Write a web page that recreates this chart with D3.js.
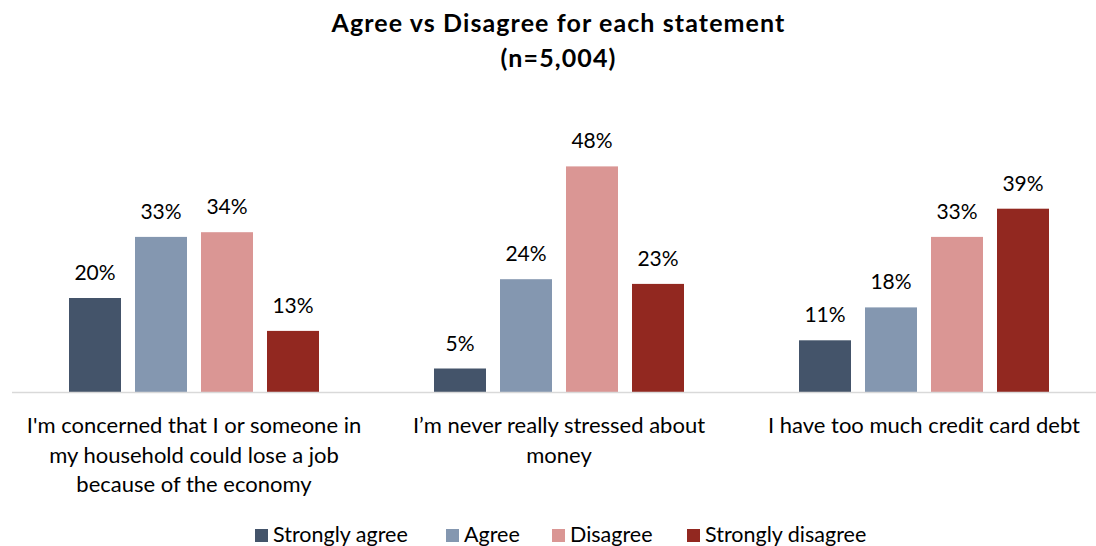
<!DOCTYPE html>
<html>
<head>
<meta charset="utf-8">
<script src="https://cdn.jsdelivr.net/npm/d3@7"></script>
<style>
  html, body { margin: 0; padding: 0; background: #fff; }
  svg { display: block; font-family: Lato, "Open Sans", sans-serif; }
</style>
</head>
<body>
<svg id="chart" width="1096" height="546"></svg>
<script>
// Survey statements (each label split into display lines)
const statements = [
  ["I'm concerned that I or someone in", "my household could lose a job", "because of the economy"],
  ["I\u2019m never really stressed about", "money"],
  ["I have too much credit card debt"]
];
const responses = ["Strongly agree", "Agree", "Disagree", "Strongly disagree"];
const colors = ["#44546A", "#8497B0", "#DA9694", "#922820"];

// Percent of respondents per statement, in response order
const stronglyAgree    = [20, 5, 11];
const agree            = [33, 24, 18];
const disagree         = [34, 48, 33];
const stronglyDisagree = [13, 23, 39];

const titleLines = ["Agree vs Disagree for each statement", "(n=5,004)"];

const seriesValues = [stronglyAgree, agree, disagree, stronglyDisagree];
const data = statements.map((s, i) => ({
  idx: i,
  lines: s,
  values: responses.map((r, j) => ({ key: r, j, value: seriesValues[j][i] }))
}));

const svg = d3.select("#chart");
const baseline = 392;

const x0 = d3.scaleBand()
  .domain(d3.range(statements.length))
  .range([11.5, 1106.5])
  .paddingInner(0)
  .paddingOuter(0);

const x1 = d3.scaleBand()
  .domain(responses)
  .range([57.5, x0.bandwidth() - 57.5])
  .paddingInner(14 / 66)
  .paddingOuter(0);

const y = d3.scaleLinear().domain([0, 50]).range([baseline, baseline - 50 * 4.70]);
const color = d3.scaleOrdinal().domain(responses).range(colors);

// Title
svg.append("g").selectAll("text")
  .data(titleLines)
  .join("text")
  .attr("x", 558.5)
  .attr("y", (d, i) => 32 + i * 35)
  .attr("text-anchor", "middle")
  .attr("font-weight", "bold")
  .attr("font-size", 25)
  .attr("letter-spacing", 1.1)
  .attr("fill", "#000")
  .text(d => d);

// Bars and value labels
const groups = svg.append("g").selectAll("g")
  .data(data)
  .join("g")
  .attr("transform", d => `translate(${x0(d.idx)},0)`);

groups.selectAll("rect")
  .data(d => d.values)
  .join("rect")
  .attr("x", d => x1(d.key))
  .attr("width", x1.bandwidth())
  .attr("y", d => y(d.value))
  .attr("height", d => baseline - y(d.value))
  .attr("fill", d => color(d.key));

groups.selectAll("text.val")
  .data(d => d.values)
  .join("text")
  .attr("class", "val")
  .attr("x", d => x1(d.key) + x1.bandwidth() / 2)
  .attr("y", d => y(d.value) - 18)
  .attr("text-anchor", "middle")
  .attr("font-size", 21)
  .attr("fill", "#000")
  .text(d => d.value + "%");

// Category axis line
svg.append("line")
  .attr("x1", 12).attr("x2", 1096)
  .attr("y1", baseline + 0.5).attr("y2", baseline + 0.5)
  .attr("stroke", "#d9d9d9")
  .attr("stroke-width", 1.5);

// Category labels
const catLabels = svg.append("g").selectAll("text")
  .data(data)
  .join("text")
  .attr("text-anchor", "middle")
  .attr("font-size", 22)
  .attr("fill", "#000");

catLabels.selectAll("tspan")
  .data(d => d.lines.map(l => ({ l, cx: x0(d.idx) + x0.bandwidth() / 2 })))
  .join("tspan")
  .attr("x", d => d.cx)
  .attr("y", (d, i) => 433 + i * 29.5)
  .text(d => d.l);

// Legend
const legendItems = [
  { key: "Strongly agree", x: 255 },
  { key: "Agree", x: 446 },
  { key: "Disagree", x: 552 },
  { key: "Strongly disagree", x: 687 }
];
const lg = svg.append("g").selectAll("g")
  .data(legendItems)
  .join("g")
  .attr("transform", d => `translate(${d.x},529)`);
lg.append("rect")
  .attr("width", 13).attr("height", 13)
  .attr("fill", d => color(d.key));
lg.append("text")
  .attr("x", 18).attr("y", 13)
  .attr("font-size", 21.5)
  .attr("fill", "#000")
  .text(d => d.key);
</script>
</body>
</html>
